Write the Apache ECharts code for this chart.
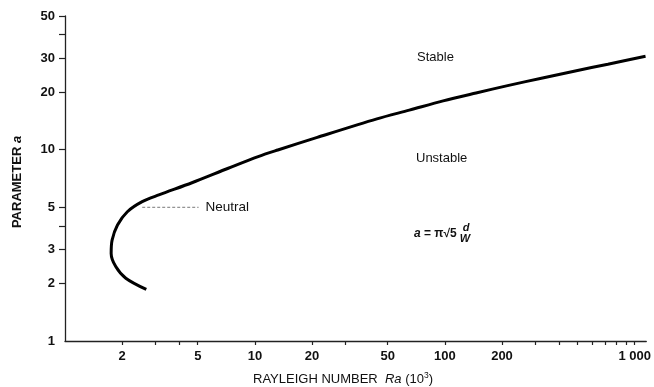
<!DOCTYPE html>
<html><head><meta charset="utf-8">
<script src="https://cdn.jsdelivr.net/npm/echarts@6/dist/echarts.min.js"></script>
<style>html,body{margin:0;padding:0;background:#fff}#c{width:654px;height:387px}</style>
</head><body><div id="c"></div>
<script>
// Neutral stability curve (Rayleigh number Ra in 10^3, parameter a), ordered along the curve
const raValues = [2.68, 2.09, 1.85, 1.75, 1.77, 1.89, 2.13, 2.55, 3.12, 4.66, 7.24, 10.4, 13.2, 21.3, 43.9, 65, 98, 146, 217, 327, 486, 722, 1140];
const aValues  = [1.86, 2.13, 2.45, 2.87, 3.37, 4.04, 4.74, 5.35, 5.80, 6.72, 8.0, 9.2, 9.96, 11.6, 14.5, 16.1, 18.0, 19.8, 21.7, 23.7, 25.8, 28.0, 30.8];
// Leader line for the "Neutral" label
const leaderRa = [2.55, 5.05];
const leaderA  = [5, 5];
// Axis ticks and labels
const xTickLabels = [2, 5, 10, 20, 50, 100, 200, 1000];
const xTickMarks  = [2, 3, 4, 5, 10, 20, 30, 50, 100, 200, 300, 400, 500, 600, 700, 800, 900, 1000];
const yTickLabels = [1, 2, 3, 5, 10, 20, 30, 50];
const yTickMarks  = [2, 3, 4, 5, 10, 20, 30, 40, 50];

const FONT = 'Liberation Sans';
const chart = echarts.init(document.getElementById('c'), null, {renderer: 'canvas'});
const fmt = v => { const r = Math.round(v); return r === 1000 ? '1 000' : String(r); };

chart.setOption({
  animation: false,
  backgroundColor: '#fff',
  grid: {left: 65, right: 2, top: 16, bottom: 46},
  xAxis: {
    type: 'log', logBase: 10, min: 1, max: 1150,
    axisLine: {show: true, onZero: false, lineStyle: {color: '#222', width: 1.3}},
    axisTick: {show: true, customValues: xTickMarks, length: 4, lineStyle: {color: '#222', width: 1.2}},
    axisLabel: {customValues: xTickLabels, formatter: fmt, margin: 9, color: '#111',
      fontSize: 13, fontWeight: 'bold', fontFamily: FONT},
    splitLine: {show: false}, minorTick: {show: false}
  },
  yAxis: {
    type: 'log', logBase: 10, min: 1, max: 50,
    axisLine: {show: true, onZero: false, lineStyle: {color: '#222', width: 1.3}},
    axisTick: {show: true, customValues: yTickMarks, length: 6, lineStyle: {color: '#222', width: 1.2}},
    axisLabel: {customValues: yTickLabels, formatter: fmt, margin: 10, color: '#111',
      fontSize: 13, fontWeight: 'bold', fontFamily: FONT},
    splitLine: {show: false}, minorTick: {show: false}
  },
  series: [
    {
      type: 'line', smooth: 0.3, symbol: 'none', silent: true,
      data: raValues.map((x, i) => [x, aValues[i]]),
      lineStyle: {color: '#000', width: 3}
    },
    {
      type: 'line', symbol: 'none', silent: true,
      data: leaderRa.map((x, i) => [x, leaderA[i]]),
      lineStyle: {color: '#777', width: 1, type: [3, 2]},
      endLabel: {show: true, formatter: 'Neutral', distance: 7, color: '#111',
        fontSize: 13.5, fontFamily: FONT}
    }
  ],
  graphic: [
    {type: 'text', x: 417, y: 57, style: {text: 'Stable', fill: '#111', font: '13px "Liberation Sans"', verticalAlign: 'middle'}},
    {type: 'text', x: 416, y: 158, style: {text: 'Unstable', fill: '#111', font: '13px "Liberation Sans"', verticalAlign: 'middle'}},
    {type: 'text', x: 414, y: 234, style: {
      text: '{i|a}{n| = π√5}', verticalAlign: 'middle',
      rich: {i: {fontStyle: 'italic', fontWeight: 'bold', fontSize: 12, fontFamily: FONT, fill: '#111'},
             n: {fontWeight: 'bold', fontSize: 12, fontFamily: FONT, fill: '#111'}}}},
    {type: 'text', x: 466, y: 228, style: {text: 'd', fill: '#111', font: 'italic bold 11px "Liberation Sans"', verticalAlign: 'middle', align: 'center'}},
    {type: 'text', x: 465, y: 239, style: {text: 'W', fill: '#111', font: 'italic bold 11px "Liberation Sans"', verticalAlign: 'middle', align: 'center'}},
    {type: 'text', x: 17, y: 182, rotation: Math.PI / 2, style: {
      text: '{n|PARAMETER }{i|a}', align: 'center', verticalAlign: 'middle',
      rich: {n: {fontSize: 13, fontWeight: 'bold', fontFamily: FONT, fill: '#111'}, i: {fontSize: 13, fontStyle: 'italic', fontWeight: 'bold', fontFamily: FONT, fill: '#111'}}}},
    {type: 'text', x: 343, y: 379, style: {
      text: '{n|RAYLEIGH NUMBER  }{i|Ra}{n| (10}{s|3}{n|)}', align: 'center', verticalAlign: 'middle',
      rich: {n: {fontSize: 13, fontFamily: FONT, fill: '#111'}, i: {fontSize: 13, fontStyle: 'italic', fontFamily: FONT, fill: '#111'},
             s: {fontSize: 8.5, fontFamily: FONT, fill: '#111', verticalAlign: 'top', padding: [0, 0, 6, 0]}}}}
  ]
});
</script></body></html>
